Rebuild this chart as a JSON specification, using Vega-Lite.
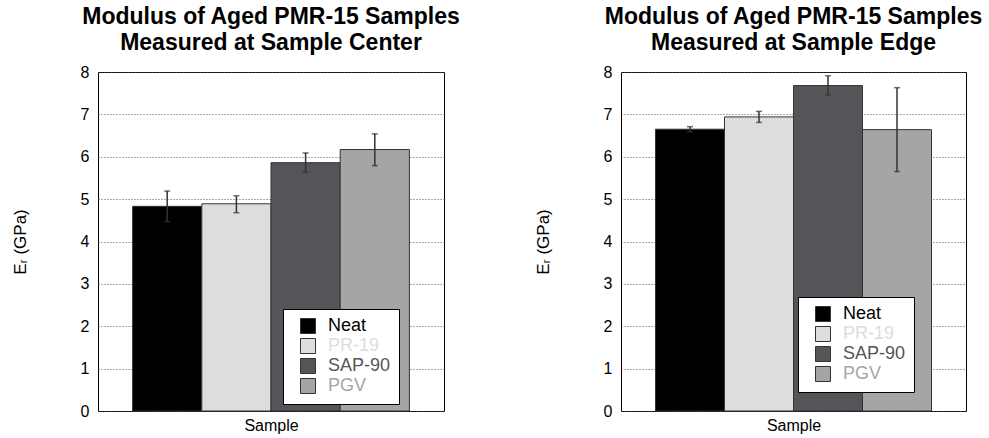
{
  "$schema": "https://vega.github.io/schema/vega-lite/v6.json",
  "background": "white",
  "padding": {"left": 10, "top": 5, "right": 5, "bottom": 5},
  "bounds": "flush",
  "spacing": 177,
  "config": {
    "font": "Liberation Sans",
    "view": {"stroke": "black", "strokeWidth": 1},
    "title": {"font": "Liberation Sans", "fontSize": 23, "fontWeight": "bold", "color": "black", "lineHeight": 26, "anchor": "middle", "offset": 9},
    "axis": {"labelFont": "Liberation Sans", "titleFont": "Liberation Sans", "labelColor": "black", "titleColor": "black"},
    "legend": {"labelFont": "Liberation Sans"}
  },
  "data": {
    "values": [
      {"panel": "center", "sample": "Neat", "value": 4.83, "lo": 4.47, "hi": 5.19},
      {"panel": "center", "sample": "PR-19", "value": 4.89, "lo": 4.68, "hi": 5.08},
      {"panel": "center", "sample": "SAP-90", "value": 5.86, "lo": 5.63, "hi": 6.09},
      {"panel": "center", "sample": "PGV", "value": 6.17, "lo": 5.79, "hi": 6.54},
      {"panel": "edge", "sample": "Neat", "value": 6.65, "lo": 6.59, "hi": 6.71},
      {"panel": "edge", "sample": "PR-19", "value": 6.94, "lo": 6.81, "hi": 7.07},
      {"panel": "edge", "sample": "SAP-90", "value": 7.68, "lo": 7.46, "hi": 7.91},
      {"panel": "edge", "sample": "PGV", "value": 6.64, "lo": 5.65, "hi": 7.63}
    ]
  },
  "resolve": {"scale": {"color": "independent", "x": "independent", "y": "independent"}, "legend": {"color": "independent"}},
  "hconcat": [
    {
      "title": {"text": ["Modulus of Aged PMR-15 Samples", "Measured at Sample Center"]},
      "width": 346,
      "height": 339,
      "transform": [{"filter": "datum.panel === 'center'"}],
      "encoding": {
        "x": {"field": "sample", "type": "nominal", "sort": ["Neat", "PR-19", "SAP-90", "PGV"],
              "scale": {"paddingInner": 0, "paddingOuter": 0.5},
              "axis": {"title": "Sample", "labels": false, "ticks": false, "domain": false, "titleFontSize": 16, "titleFontWeight": "normal", "titlePadding": 6}}
      },
      "layer": [
        {
          "mark": {"type": "bar", "stroke": "#333333", "strokeWidth": 1},
          "encoding": {
            "y": {"field": "value", "type": "quantitative", "scale": {"domain": [0, 8]},
                  "axis": {"values": [0, 1, 2, 3, 4, 5, 6, 7, 8], "title": "Eᵣ (GPa)", "titleFontSize": 17, "titleFontWeight": "normal", "titlePadding": 51, "labelFontSize": 16, "labelPadding": 9, "ticks": false, "domain": false, "grid": true, "gridColor": "#555555", "gridDash": [1, 2], "gridWidth": 1}},
            "color": {"field": "sample", "type": "nominal",
                      "scale": {"domain": ["Neat", "PR-19", "SAP-90", "PGV"], "range": ["#000000", "#dcdedd", "#555459", "#a5a5a5"]},
                      "legend": {"title": null, "orient": "none", "legendX": 185, "legendY": 237, "fillColor": "white", "strokeColor": "black", "padding": 8, "symbolType": "square", "symbolSize": 225, "symbolStrokeColor": "#333333", "symbolStrokeWidth": 1, "symbolOffset": 8, "labelFontSize": 18, "labelOffset": 11, "rowPadding": 0,
                                 "labelLimit": 200,
                                 "encode": {"labels": {"update": {"fill": {"signal": "datum.value === 'Neat' ? '#000000' : datum.value === 'PR-19' ? '#dcdcdc' : datum.value === 'SAP-90' ? '#555555' : '#a5a5a5'"}}}}}}
          }
        },
        {
          "mark": {"type": "rule", "color": "#333333", "strokeWidth": 1.5},
          "encoding": {"y": {"field": "lo", "type": "quantitative"}, "y2": {"field": "hi"}}
        },
        {
          "mark": {"type": "tick", "color": "#333333", "size": 6, "thickness": 1.5},
          "encoding": {"y": {"field": "lo", "type": "quantitative"}}
        },
        {
          "mark": {"type": "tick", "color": "#333333", "size": 6, "thickness": 1.5},
          "encoding": {"y": {"field": "hi", "type": "quantitative"}}
        }
      ]
    },
    {
      "title": {"text": ["Modulus of Aged PMR-15 Samples", "Measured at Sample Edge"]},
      "width": 345,
      "height": 339,
      "transform": [{"filter": "datum.panel === 'edge'"}],
      "encoding": {
        "x": {"field": "sample", "type": "nominal", "sort": ["Neat", "PR-19", "SAP-90", "PGV"],
              "scale": {"paddingInner": 0, "paddingOuter": 0.5},
              "axis": {"title": "Sample", "labels": false, "ticks": false, "domain": false, "titleFontSize": 16, "titleFontWeight": "normal", "titlePadding": 6}}
      },
      "layer": [
        {
          "mark": {"type": "bar", "stroke": "#333333", "strokeWidth": 1},
          "encoding": {
            "y": {"field": "value", "type": "quantitative", "scale": {"domain": [0, 8]},
                  "axis": {"values": [0, 1, 2, 3, 4, 5, 6, 7, 8], "title": "Eᵣ (GPa)", "titleFontSize": 17, "titleFontWeight": "normal", "titlePadding": 51, "labelFontSize": 16, "labelPadding": 9, "ticks": false, "domain": false, "grid": true, "gridColor": "#555555", "gridDash": [1, 2], "gridWidth": 1}},
            "color": {"field": "sample", "type": "nominal",
                      "scale": {"domain": ["Neat", "PR-19", "SAP-90", "PGV"], "range": ["#000000", "#dcdedd", "#555459", "#a5a5a5"]},
                      "legend": {"title": null, "orient": "none", "legendX": 177, "legendY": 225, "fillColor": "white", "strokeColor": "black", "padding": 8, "symbolType": "square", "symbolSize": 225, "symbolStrokeColor": "#333333", "symbolStrokeWidth": 1, "symbolOffset": 8, "labelFontSize": 18, "labelOffset": 11, "rowPadding": 0,
                                 "labelLimit": 200,
                                 "encode": {"labels": {"update": {"fill": {"signal": "datum.value === 'Neat' ? '#000000' : datum.value === 'PR-19' ? '#dcdcdc' : datum.value === 'SAP-90' ? '#555555' : '#a5a5a5'"}}}}}}
          }
        },
        {
          "mark": {"type": "rule", "color": "#333333", "strokeWidth": 1.5},
          "encoding": {"y": {"field": "lo", "type": "quantitative"}, "y2": {"field": "hi"}}
        },
        {
          "mark": {"type": "tick", "color": "#333333", "size": 6, "thickness": 1.5},
          "encoding": {"y": {"field": "lo", "type": "quantitative"}}
        },
        {
          "mark": {"type": "tick", "color": "#333333", "size": 6, "thickness": 1.5},
          "encoding": {"y": {"field": "hi", "type": "quantitative"}}
        }
      ]
    }
  ]
}
